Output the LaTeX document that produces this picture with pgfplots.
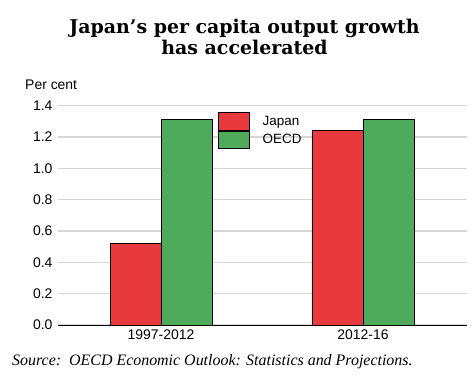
\documentclass[border=0pt]{standalone}
\usepackage{pgfplots}
\pgfplotsset{compat=1.18}
\usepackage{fontspec}
\setmainfont{Liberation Sans}
\newfontfamily\titlefont{DejaVu Serif}
\newfontfamily\srcfont{Liberation Serif}
\definecolor{jred}{HTML}{E8393F}
\definecolor{ogreen}{HTML}{50AA5C}
\definecolor{gridg}{HTML}{D6D6D6}
\begin{document}
\begin{tikzpicture}
\path[use as bounding box] (0,0) rectangle (474bp,-381bp);
\node[font=\titlefont\bfseries\fontsize{19}{21}\selectfont, align=center, anchor=north] at (244.5bp,-15.5bp) {Japan’s per capita output growth\\has accelerated};
\node[font=\fontsize{14}{16}\selectfont, anchor=base west, inner sep=0pt] at (25bp,-89bp) {Per cent};
\node[font=\srcfont\itshape\fontsize{16}{18}\selectfont, anchor=base west, inner sep=0pt] at (12bp,-365bp) {Source:\ \ OECD Economic Outlook: Statistics and Projections.};
\begin{axis}[
  at={(58bp,-325bp)}, anchor=south west,
  scale only axis, width=409bp, height=219.3bp,
  ybar=0pt, bar width=51bp,
  xmin=-0.51, xmax=1.515, ymin=0, ymax=1.4,
  xtick={0,1}, xticklabels={1997-2012,2012-16},
  ytick={0,0.2,0.4,0.6,0.8,1.0,1.2,1.4},
  /pgf/number format/fixed, /pgf/number format/fixed zerofill, /pgf/number format/precision=1,
  /pgf/number format/assume math mode=true,
  tick label style={font=\fontsize{14}{16}\selectfont},
  yticklabel style={xshift=-2bp},
  xticklabel style={yshift=-1bp},
  major tick length=0pt,
  axis x line*=bottom, axis y line*=left,
  x axis line style={black, line width=0.9bp, -},
  y axis line style={draw=none},
  ymajorgrids, grid style={gridg, line width=1.3bp},
  legend style={at={(0.383,0.98)}, anchor=north west, draw=none, fill=none,
    font=\fontsize{13.5}{15}\selectfont, row sep=0pt,
    nodes={inner sep=0pt, minimum height=17.5bp, anchor=west}},
  legend cell align=left,
  legend image code/.code={\draw[#1] (0bp,-8.75bp) rectangle (31bp,8.75bp); \path (44bp,0);},
]
\addplot[draw=black, line width=0.8bp, fill=jred] coordinates {(0,0.52) (1,1.24)};
\addplot[draw=black, line width=0.8bp, fill=ogreen] coordinates {(0,1.31) (1,1.31)};
\legend{Japan,OECD}
\end{axis}
\end{tikzpicture}
\end{document}
